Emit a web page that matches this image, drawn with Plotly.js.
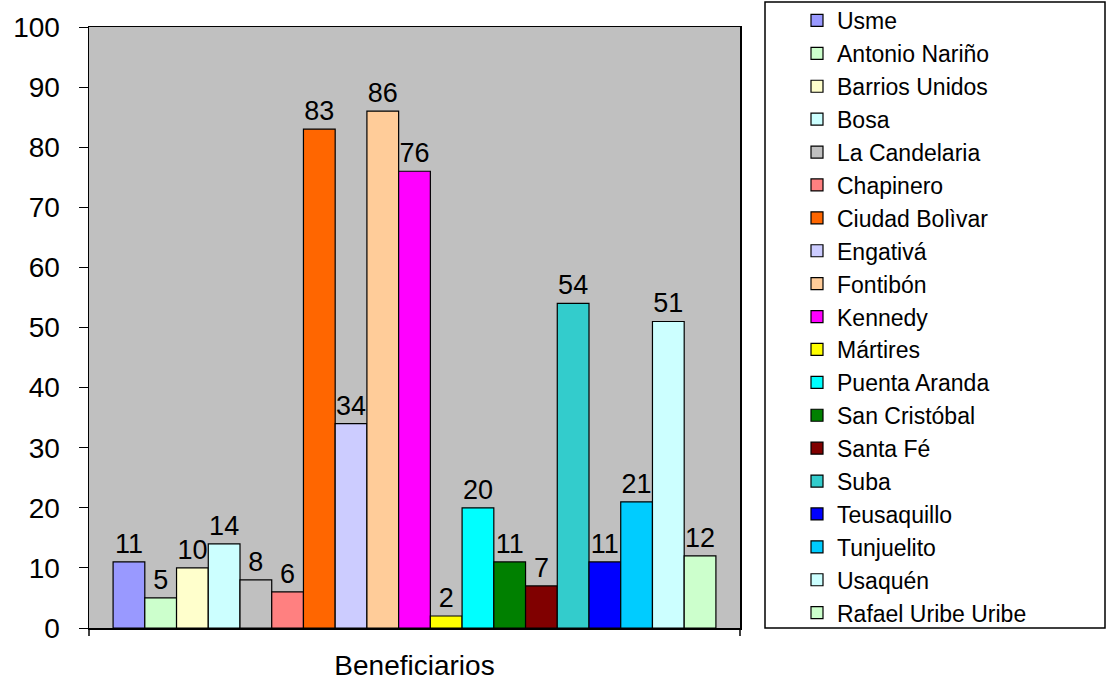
<!DOCTYPE html>
<html><head><meta charset="utf-8">
<script src="https://cdn.plot.ly/plotly-3.0.1.min.js"></script>
<style>html,body{margin:0;padding:0;background:#fff;}#chart{width:1120px;height:681px;}</style>
</head><body><div id="chart"></div>
<script>
const categories = ['Beneficiarios'];
const localidades = ['Usme','Antonio Nariño','Barrios Unidos','Bosa','La Candelaria','Chapinero','Ciudad Bolìvar','Engativá','Fontibón','Kennedy','Mártires','Puenta Aranda','San Cristóbal','Santa Fé','Suba','Teusaquillo','Tunjuelito','Usaquén','Rafael Uribe Uribe'];
const valores = [11,5,10,14,8,6,83,34,86,76,2,20,11,7,54,11,21,51,12];
const colores = ['#9999FF','#CCFFCC','#FFFFCC','#CCFFFF','#C0C0C0','#FF8080','#FF6600','#CCCCFF','#FFCC99','#FF00FF','#FFFF00','#00FFFF','#008000','#800000','#33CCCC','#0000FF','#00CCFF','#CCFFFF','#CCFFCC'];
const yTicks = [0,10,20,30,40,50,60,70,80,90,100];

const FONT = 'Liberation Sans, Arial, sans-serif';
const L = 89, R = 740, T = 27, B = 628;
const pw = R - L, ph = B - T;
const px = x => (x - L) / pw;
const py = y => (B - y) / ph;

const traces = localidades.map((n, i) => ({
  type: 'bar', name: n, x: categories, y: [valores[i]],
  marker: {color: colores[i], line: {color: '#000', width: 1.2}},
  text: [String(valores[i])], textposition: 'outside', cliponaxis: false,
  textfont: {family: FONT, size: 27, color: '#000'},
  legendgroup: 'g' + i, hoverinfo: 'skip'
}));

const layout = {
  width: 1120, height: 681,
  margin: {l: L, r: 1120 - R, t: T, b: 681 - B, autoexpand: false},
  paper_bgcolor: '#fff', plot_bgcolor: '#C0C0C0',
  barmode: 'group', bargap: 0.074, bargroupgap: 0,
  font: {family: FONT, size: 23, color: '#000'},
  showlegend: true,
  legend: {x: px(797), y: py(-1), xanchor: 'left', yanchor: 'top', maxheight: 2000,
    font: {family: FONT, size: 23, color: '#000'},
    bgcolor: 'rgba(0,0,0,0)', borderwidth: 0, tracegroupgap: 0, traceorder: 'grouped'},
  xaxis: {type: 'category', showticklabels: false, ticks: '', showline: true, linecolor: '#000', linewidth: 1.5,
    mirror: true, showgrid: false, zeroline: false,
    title: {text: categories[0], font: {family: FONT, size: 28, color: '#000'}, standoff: 30}},
  yaxis: {range: [0, 100], tickvals: yTicks, ticktext: yTicks.map(String), ticks: 'outside', ticklen: 9, tickcolor: '#000',
    ticklabelstandoff: 13,
    showline: true, linecolor: '#000', linewidth: 1.5, mirror: true, showgrid: false, zeroline: false,
    tickfont: {family: FONT, size: 28, color: '#000'}},
  shapes: [
    {type: 'line', xref: 'paper', yref: 'paper', x0: 0, x1: 0, y0: 0, y1: py(636), line: {color: '#000', width: 1.5}},
    {type: 'line', xref: 'paper', yref: 'paper', x0: 1, x1: 1, y0: 0, y1: py(636), line: {color: '#000', width: 1.5}},
    {type: 'rect', xref: 'paper', yref: 'paper', x0: px(765), x1: px(1105), y0: py(628), y1: py(2), line: {color: '#000', width: 1.5}, fillcolor: 'rgba(0,0,0,0)'}
  ]
};
Plotly.newPlot('chart', traces, layout, {staticPlot: true, displayModeBar: false});
</script></body></html>
